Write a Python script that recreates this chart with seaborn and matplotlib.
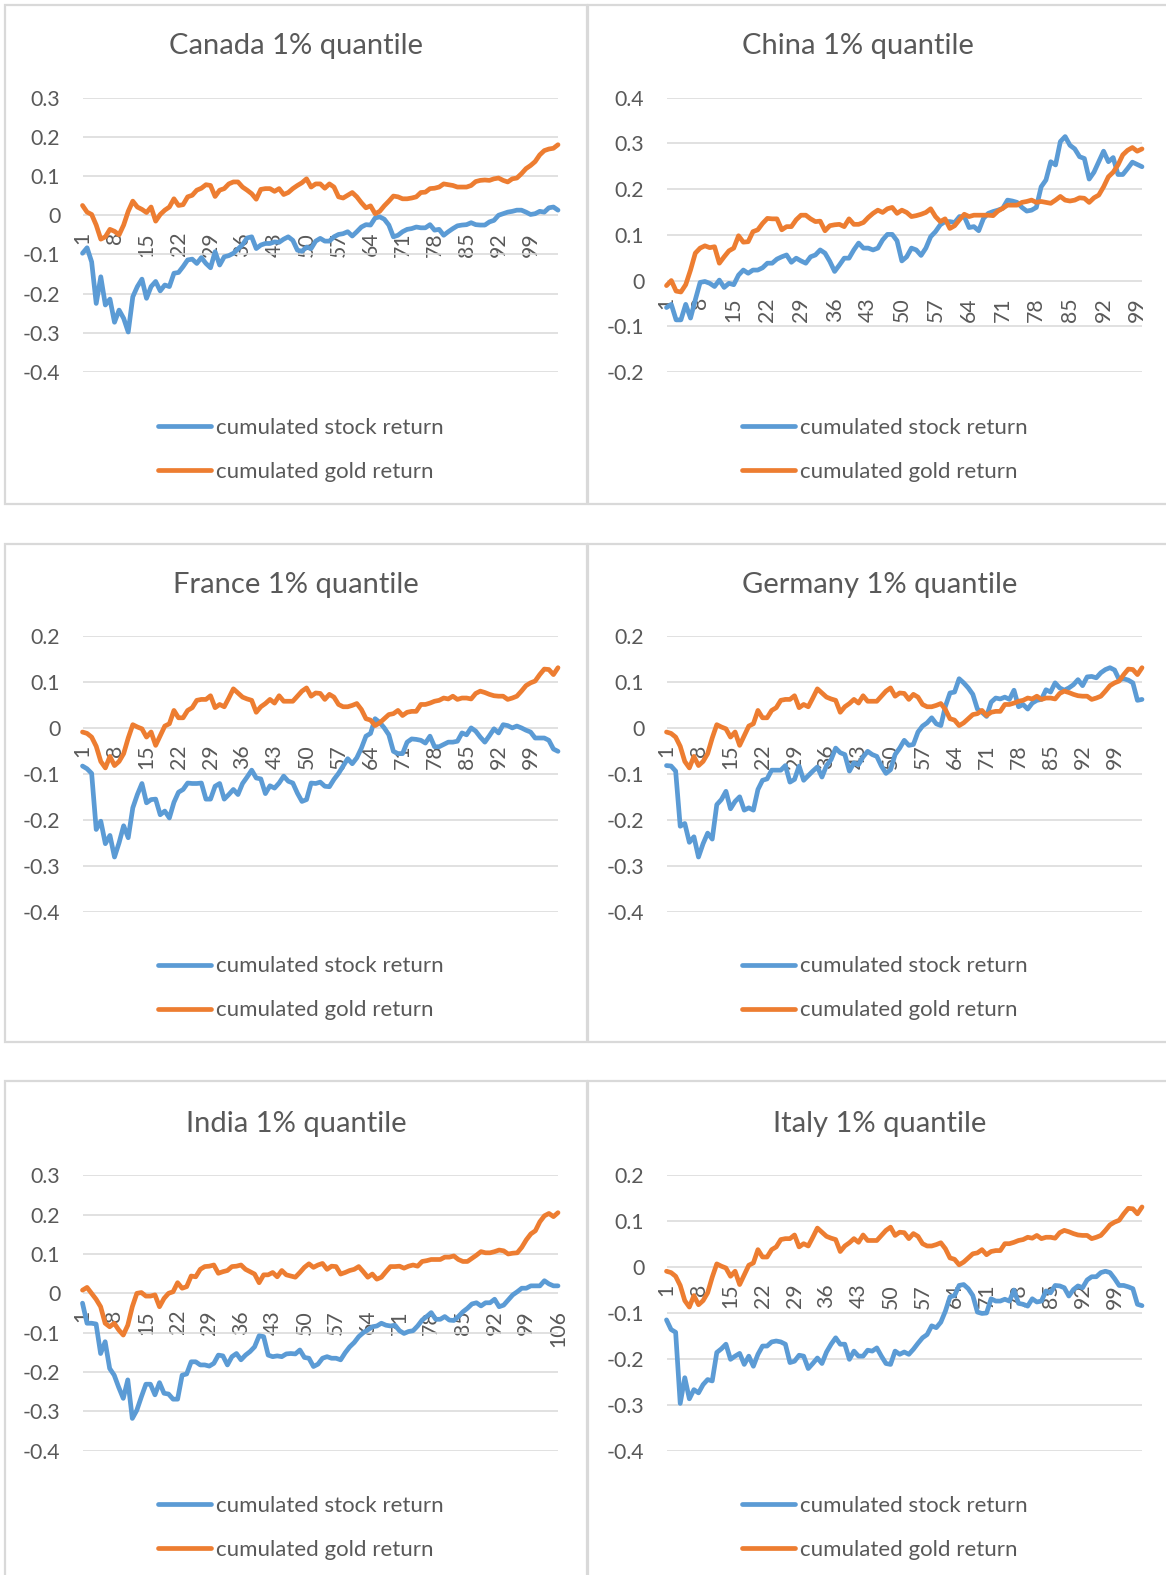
import numpy as np
import pandas as pd
import matplotlib
matplotlib.use("Agg")
import matplotlib.pyplot as plt
import seaborn as sns
from matplotlib.patches import Rectangle
from matplotlib.lines import Line2D

# ---------------- data ----------------
canada_stock = [-0.097, -0.083, -0.119, -0.225, -0.157, -0.229, -0.214, -0.273, -0.242, -0.263,
                -0.298, -0.208, -0.182, -0.163, -0.212, -0.182, -0.169, -0.193, -0.178, -0.182,
                -0.148, -0.146, -0.131, -0.114, -0.112, -0.123, -0.108, -0.123, -0.134, -0.093,
                -0.127, -0.106, -0.103, -0.097, -0.086, -0.075, -0.058, -0.055, -0.085, -0.076,
                -0.072, -0.072, -0.068, -0.069, -0.061, -0.055, -0.064, -0.089, -0.092, -0.081,
                -0.085, -0.066, -0.059, -0.066, -0.066, -0.055, -0.049, -0.047, -0.042, -0.053,
                -0.042, -0.030, -0.024, -0.025, -0.007, -0.004, -0.010, -0.025, -0.055, -0.051,
                -0.042, -0.036, -0.034, -0.030, -0.032, -0.032, -0.024, -0.038, -0.036, -0.051,
                -0.042, -0.034, -0.027, -0.025, -0.024, -0.019, -0.024, -0.025, -0.025, -0.017,
                -0.013, 0.000, 0.004, 0.008, 0.010, 0.013, 0.013, 0.008, 0.002, 0.004,
                0.010, 0.008, 0.019, 0.021, 0.013]
canada_gold = [0.025, 0.008, 0.002, -0.025, -0.061, -0.055, -0.036, -0.041, -0.050, -0.025,
               0.010, 0.036, 0.021, 0.015, 0.007, 0.021, -0.015, 0.002, 0.013, 0.021,
               0.042, 0.025, 0.027, 0.047, 0.051, 0.064, 0.069, 0.078, 0.076, 0.048,
               0.064, 0.068, 0.080, 0.085, 0.085, 0.072, 0.064, 0.055, 0.041, 0.066,
               0.068, 0.068, 0.061, 0.068, 0.053, 0.058, 0.068, 0.076, 0.083, 0.093,
               0.072, 0.080, 0.080, 0.069, 0.080, 0.072, 0.047, 0.044, 0.051, 0.058,
               0.047, 0.032, 0.019, 0.024, 0.004, 0.010, 0.024, 0.036, 0.049, 0.047,
               0.042, 0.042, 0.044, 0.047, 0.058, 0.059, 0.068, 0.069, 0.072, 0.080,
               0.078, 0.076, 0.072, 0.072, 0.072, 0.076, 0.086, 0.089, 0.090, 0.089,
               0.093, 0.095, 0.089, 0.085, 0.093, 0.095, 0.106, 0.119, 0.127, 0.137,
               0.154, 0.165, 0.169, 0.171, 0.180]

china_stock = [-0.059, -0.052, -0.086, -0.086, -0.052, -0.082, -0.042, -0.004, -0.002, -0.006,
               -0.013, 0.001, -0.015, -0.006, -0.009, 0.012, 0.023, 0.016, 0.023, 0.023,
               0.028, 0.038, 0.038, 0.047, 0.052, 0.056, 0.040, 0.049, 0.043, 0.038,
               0.052, 0.056, 0.067, 0.060, 0.042, 0.020, 0.034, 0.049, 0.049, 0.067,
               0.082, 0.071, 0.071, 0.067, 0.071, 0.089, 0.101, 0.101, 0.087, 0.043,
               0.052, 0.071, 0.067, 0.055, 0.071, 0.096, 0.107, 0.122, 0.129, 0.129,
               0.127, 0.140, 0.140, 0.116, 0.118, 0.109, 0.136, 0.147, 0.151, 0.154,
               0.158, 0.176, 0.174, 0.171, 0.160, 0.152, 0.154, 0.160, 0.205, 0.220,
               0.260, 0.253, 0.304, 0.315, 0.296, 0.288, 0.271, 0.267, 0.222, 0.237,
               0.260, 0.283, 0.260, 0.269, 0.232, 0.232, 0.245, 0.259, 0.254, 0.249]
china_gold = [-0.011, 0.000, -0.023, -0.025, -0.009, 0.023, 0.060, 0.071, 0.076, 0.072,
              0.074, 0.038, 0.052, 0.065, 0.071, 0.098, 0.084, 0.085, 0.107, 0.111,
              0.125, 0.136, 0.135, 0.135, 0.111, 0.118, 0.118, 0.133, 0.143, 0.143,
              0.135, 0.129, 0.130, 0.109, 0.120, 0.122, 0.123, 0.118, 0.135, 0.123,
              0.123, 0.127, 0.138, 0.147, 0.154, 0.149, 0.157, 0.160, 0.147, 0.154,
              0.149, 0.140, 0.142, 0.145, 0.149, 0.157, 0.140, 0.129, 0.135, 0.114,
              0.120, 0.133, 0.145, 0.140, 0.143, 0.143, 0.143, 0.143, 0.142, 0.152,
              0.158, 0.165, 0.165, 0.165, 0.171, 0.173, 0.176, 0.171, 0.173, 0.171,
              0.169, 0.176, 0.184, 0.176, 0.174, 0.176, 0.181, 0.180, 0.171, 0.181,
              0.187, 0.205, 0.227, 0.237, 0.253, 0.275, 0.285, 0.291, 0.283, 0.288]

france_stock = [-0.083, -0.089, -0.099, -0.221, -0.203, -0.252, -0.234, -0.281, -0.250, -0.213,
                -0.239, -0.174, -0.145, -0.121, -0.163, -0.156, -0.155, -0.189, -0.181, -0.196,
                -0.162, -0.140, -0.134, -0.120, -0.121, -0.121, -0.120, -0.155, -0.155, -0.127,
                -0.121, -0.155, -0.145, -0.134, -0.145, -0.121, -0.107, -0.092, -0.109, -0.111,
                -0.143, -0.126, -0.131, -0.120, -0.105, -0.116, -0.120, -0.142, -0.160, -0.156,
                -0.120, -0.121, -0.118, -0.127, -0.128, -0.112, -0.099, -0.083, -0.067, -0.078,
                -0.065, -0.044, -0.018, -0.012, 0.020, 0.012, 0.000, -0.015, -0.051, -0.056,
                -0.056, -0.031, -0.024, -0.025, -0.027, -0.033, -0.018, -0.041, -0.041, -0.036,
                -0.031, -0.031, -0.029, -0.011, -0.015, 0.000, -0.007, -0.020, -0.031, -0.017,
                -0.002, -0.011, 0.007, 0.005, 0.000, 0.004, 0.000, -0.005, -0.009, -0.022,
                -0.022, -0.022, -0.027, -0.046, -0.051]
france_gold = [-0.009, -0.012, -0.020, -0.040, -0.073, -0.087, -0.062, -0.082, -0.073, -0.056,
               -0.022, 0.007, 0.002, -0.002, -0.020, -0.009, -0.038, -0.017, 0.004, 0.009,
               0.038, 0.022, 0.022, 0.038, 0.044, 0.060, 0.062, 0.062, 0.070, 0.044,
               0.051, 0.046, 0.065, 0.085, 0.076, 0.067, 0.063, 0.060, 0.034, 0.046,
               0.053, 0.062, 0.054, 0.070, 0.058, 0.058, 0.058, 0.069, 0.080, 0.087,
               0.069, 0.076, 0.075, 0.062, 0.073, 0.067, 0.051, 0.046, 0.046, 0.049,
               0.053, 0.040, 0.020, 0.017, 0.005, 0.011, 0.020, 0.029, 0.031, 0.038,
               0.027, 0.034, 0.036, 0.036, 0.051, 0.051, 0.054, 0.058, 0.060, 0.065,
               0.063, 0.069, 0.062, 0.065, 0.065, 0.063, 0.075, 0.080, 0.077, 0.073,
               0.070, 0.069, 0.069, 0.062, 0.065, 0.069, 0.080, 0.092, 0.098, 0.102,
               0.116, 0.128, 0.127, 0.116, 0.131]

germany_stock = [-0.082, -0.083, -0.094, -0.214, -0.208, -0.249, -0.237, -0.281, -0.252, -0.229,
                 -0.242, -0.167, -0.156, -0.138, -0.176, -0.160, -0.150, -0.179, -0.174, -0.179,
                 -0.134, -0.114, -0.111, -0.092, -0.092, -0.092, -0.082, -0.118, -0.112, -0.083,
                 -0.114, -0.104, -0.094, -0.085, -0.107, -0.082, -0.069, -0.044, -0.054, -0.058,
                 -0.094, -0.076, -0.080, -0.063, -0.051, -0.058, -0.062, -0.083, -0.099, -0.091,
                 -0.058, -0.044, -0.027, -0.038, -0.036, -0.009, 0.004, 0.011, 0.022, 0.009,
                 0.005, 0.047, 0.076, 0.078, 0.107, 0.098, 0.087, 0.073, 0.041, 0.034,
                 0.025, 0.056, 0.065, 0.063, 0.067, 0.062, 0.082, 0.046, 0.051, 0.041,
                 0.054, 0.060, 0.062, 0.083, 0.078, 0.098, 0.087, 0.082, 0.087, 0.094,
                 0.105, 0.092, 0.111, 0.112, 0.109, 0.120, 0.127, 0.131, 0.126, 0.105,
                 0.107, 0.104, 0.098, 0.060, 0.062]
germany_gold = list(france_gold)  # same euro gold series in the reference

india_stock = [-0.025, -0.076, -0.076, -0.078, -0.153, -0.123, -0.191, -0.208, -0.239, -0.267,
               -0.220, -0.318, -0.297, -0.263, -0.231, -0.231, -0.258, -0.227, -0.254, -0.256,
               -0.269, -0.269, -0.208, -0.205, -0.174, -0.174, -0.182, -0.182, -0.185, -0.178,
               -0.157, -0.159, -0.182, -0.161, -0.153, -0.169, -0.157, -0.148, -0.136, -0.108,
               -0.110, -0.157, -0.161, -0.159, -0.161, -0.154, -0.153, -0.154, -0.144, -0.163,
               -0.165, -0.186, -0.180, -0.165, -0.161, -0.165, -0.165, -0.169, -0.151, -0.136,
               -0.125, -0.110, -0.100, -0.093, -0.085, -0.083, -0.076, -0.081, -0.083, -0.081,
               -0.095, -0.102, -0.097, -0.095, -0.083, -0.068, -0.059, -0.049, -0.066, -0.066,
               -0.059, -0.068, -0.069, -0.059, -0.047, -0.038, -0.027, -0.024, -0.032, -0.024,
               -0.024, -0.015, -0.034, -0.030, -0.017, -0.004, 0.004, 0.013, 0.013, 0.019,
               0.019, 0.019, 0.032, 0.024, 0.019, 0.019]
india_gold = [0.008, 0.015, 0.000, -0.015, -0.034, -0.076, -0.085, -0.076, -0.093, -0.106,
              -0.081, -0.034, 0.000, 0.002, -0.007, -0.007, -0.004, -0.034, -0.013, 0.000,
              0.004, 0.027, 0.013, 0.017, 0.044, 0.042, 0.061, 0.068, 0.069, 0.072,
              0.051, 0.055, 0.058, 0.068, 0.069, 0.072, 0.061, 0.055, 0.049, 0.027,
              0.047, 0.047, 0.053, 0.042, 0.058, 0.047, 0.044, 0.041, 0.053, 0.066,
              0.075, 0.066, 0.072, 0.076, 0.061, 0.069, 0.068, 0.049, 0.053, 0.058,
              0.061, 0.068, 0.055, 0.041, 0.049, 0.036, 0.041, 0.055, 0.068, 0.068,
              0.069, 0.064, 0.069, 0.072, 0.069, 0.081, 0.083, 0.086, 0.086, 0.086,
              0.092, 0.092, 0.095, 0.086, 0.081, 0.081, 0.089, 0.097, 0.106, 0.103,
              0.103, 0.106, 0.110, 0.108, 0.100, 0.102, 0.103, 0.117, 0.136, 0.151,
              0.159, 0.182, 0.197, 0.203, 0.195, 0.205]

italy_stock = [-0.115, -0.136, -0.142, -0.297, -0.241, -0.287, -0.267, -0.274, -0.256, -0.245,
               -0.248, -0.186, -0.178, -0.168, -0.201, -0.194, -0.188, -0.212, -0.194, -0.216,
               -0.190, -0.172, -0.172, -0.163, -0.161, -0.163, -0.168, -0.208, -0.205, -0.192,
               -0.194, -0.221, -0.210, -0.198, -0.210, -0.185, -0.168, -0.154, -0.168, -0.168,
               -0.201, -0.183, -0.194, -0.194, -0.181, -0.183, -0.176, -0.194, -0.210, -0.212,
               -0.183, -0.190, -0.185, -0.190, -0.179, -0.166, -0.154, -0.147, -0.128, -0.132,
               -0.120, -0.096, -0.065, -0.062, -0.040, -0.038, -0.047, -0.062, -0.098, -0.101,
               -0.100, -0.069, -0.074, -0.074, -0.070, -0.074, -0.050, -0.079, -0.081, -0.085,
               -0.069, -0.076, -0.074, -0.052, -0.056, -0.040, -0.041, -0.045, -0.063, -0.049,
               -0.041, -0.045, -0.028, -0.021, -0.021, -0.012, -0.009, -0.012, -0.025, -0.040,
               -0.040, -0.043, -0.047, -0.081, -0.084]
italy_gold = list(france_gold)  # same euro gold series in the reference

titles = ["Canada 1% quantile", "China 1% quantile", "France 1% quantile",
          "Germany 1% quantile", "India 1% quantile", "Italy 1% quantile"]
legend_labels = ["cumulated stock return", "cumulated gold return"]

# ---------------- style ----------------
W, H = 1166, 1575
BLUE = "#5B9BD5"
ORANGE = "#ED7D31"
GRID = "#D9D9D9"
TEXT = "#595959"

sns.set_theme(style="white")
plt.rcParams["font.family"] = ["Lato", "DejaVu Sans"]

fig = plt.figure(figsize=(W / 100, H / 100), dpi=100)
fig.patch.set_facecolor("white")


def fx(px):
    return px / W


def fy(py):
    return 1 - py / H


LEFT_PLOT = (82.5, 558.0)
RIGHT_PLOT = (666.5, 1142.0)

panels = [
    dict(title=titles[0], stock=canada_stock, gold=canada_gold, box=(5, 5, 582, 499),
         xr=LEFT_PLOT, yr=(97.7, 372.0), ylim=(-0.4, 0.3), title_xy=(296, 46),
         leg_xy=(158, 450)),
    dict(title=titles[1], stock=china_stock, gold=china_gold, box=(588, 5, 590, 499),
         xr=RIGHT_PLOT, yr=(97.7, 372.0), ylim=(-0.2, 0.4), title_xy=(858, 46),
         leg_xy=(742, 450)),
    dict(title=titles[2], stock=france_stock, gold=france_gold, box=(5, 544, 582, 498),
         xr=LEFT_PLOT, yr=(636.0, 911.7), ylim=(-0.4, 0.2), title_xy=(296, 584.5),
         leg_xy=(158, 988.5)),
    dict(title=titles[3], stock=germany_stock, gold=germany_gold, box=(588, 544, 590, 498),
         xr=RIGHT_PLOT, yr=(636.0, 911.7), ylim=(-0.4, 0.2), title_xy=(880, 584.5),
         leg_xy=(742, 988.5)),
    dict(title=titles[4], stock=india_stock, gold=india_gold, box=(5, 1081, 582, 520),
         xr=LEFT_PLOT, yr=(1175.3, 1450.7), ylim=(-0.4, 0.3), title_xy=(296, 1123.8),
         leg_xy=(158, 1528)),
    dict(title=titles[5], stock=italy_stock, gold=italy_gold, box=(588, 1081, 590, 520),
         xr=RIGHT_PLOT, yr=(1175.3, 1450.7), ylim=(-0.4, 0.2), title_xy=(880, 1123.8),
         leg_xy=(742, 1528)),
]

TICK_FS = 15.3
LEG_FS = 16
TITLE_FS = 21
LW = 3.4

for p in panels:
    bx, by, bw, bh = p["box"]
    fig.add_artist(Rectangle((fx(bx), fy(by + bh)), bw / W, bh / H,
                             transform=fig.transFigure, fill=False,
                             edgecolor=GRID, linewidth=1.6, zorder=0))
    l, r = p["xr"]
    t, b = p["yr"]
    ax = fig.add_axes([fx(l), fy(b), (r - l) / W, (b - t) / H])
    ax.set_facecolor("none")

    n = len(p["stock"])
    df = pd.DataFrame({"period": np.arange(1, n + 1),
                       "stock": p["stock"], "gold": p["gold"]})
    sns.lineplot(data=df, x="period", y="stock", ax=ax, color=BLUE, linewidth=LW,
                 solid_capstyle="round", solid_joinstyle="round", clip_on=False)
    sns.lineplot(data=df, x="period", y="gold", ax=ax, color=ORANGE, linewidth=LW,
                 solid_capstyle="round", solid_joinstyle="round", clip_on=False)

    ymin, ymax = p["ylim"]
    ax.set_xlim(1, n)
    ax.set_ylim(ymin, ymax)
    ax.spines["bottom"].set_position(("data", 0))
    for s in ax.spines.values():
        s.set_visible(False)
    yt = np.round(np.arange(ymin, ymax + 0.001, 0.1), 1)
    ax.set_yticks(yt)
    ax.set_yticklabels(["0" if abs(v) < 1e-9 else f"{v:.1f}" for v in yt])
    xt = list(range(1, n + 1, 7))
    ax.set_xticks(xt)
    ax.set_xticklabels([str(v) for v in xt])
    ax.set_xlabel("")
    ax.set_ylabel("")
    ax.grid(axis="y", color=GRID, linewidth=1.1)
    ax.grid(axis="x", visible=False)
    ax.set_axisbelow(True)
    ax.tick_params(axis="x", length=0, pad=12, labelsize=TICK_FS, labelcolor=TEXT,
                   labelrotation=90)
    ax.tick_params(axis="y", length=0, pad=16, labelsize=TICK_FS, labelcolor=TEXT)

    fig.text(fx(p["title_xy"][0]), fy(p["title_xy"][1]), p["title"], ha="center",
             va="center", fontsize=TITLE_FS, color=TEXT)

    handles = [Line2D([], [], color=BLUE, linewidth=LW, solid_capstyle="round"),
               Line2D([], [], color=ORANGE, linewidth=LW, solid_capstyle="round")]
    leg = ax.legend(handles, legend_labels, loc="center left",
                    bbox_to_anchor=(fx(p["leg_xy"][0]), fy(p["leg_xy"][1])),
                    bbox_transform=fig.transFigure, frameon=False, borderpad=0,
                    borderaxespad=0, handlelength=2.4, handletextpad=0.2,
                    labelspacing=1.08, fontsize=LEG_FS)
    for txt in leg.get_texts():
        txt.set_color(TEXT)

fig.savefig("out.png", dpi=100, facecolor="white")
